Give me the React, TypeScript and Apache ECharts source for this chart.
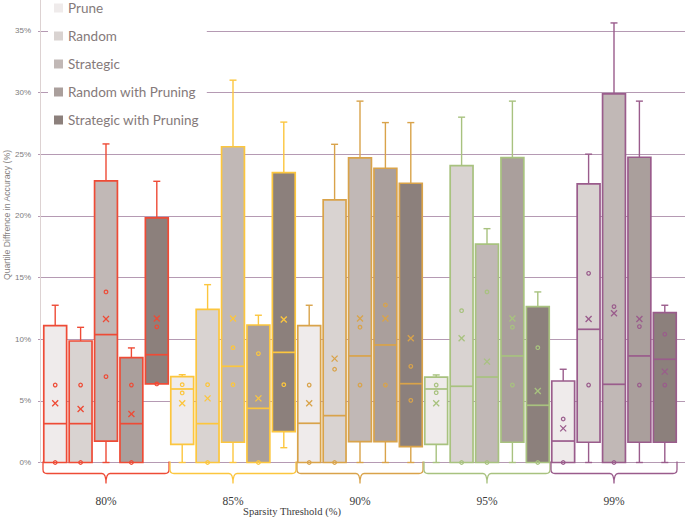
import React, { useEffect, useRef } from 'react';
import * as echarts from 'echarts';

const groups = ['80%', '85%', '90%', '95%', '99%'];
const seriesNames = ['Prune', 'Random', 'Strategic', 'Random with Pruning', 'Strategic with Pruning'];
const fills = ['#efebeb', '#d9d3d1', '#c1b8b6', '#aa9f9c', '#8c807c'];
const groupColors = ['#ee4b36', '#fcc63e', '#d9a34a', '#a8c27f', '#9a5c8c'];

// per group: [min, Q1, median, Q3, max, mean]
const prune = [
  [0, 0, 3.15, 11.1, 12.75, 4.8],
  [0, 1.47, 5.96, 6.96, 7.12, 4.8],
  [0, 0, 3.18, 11.1, 12.75, 4.8],
  [0, 1.47, 5.96, 6.93, 7.1, 4.8],
  [0, 0, 1.74, 6.61, 7.56, 2.77],
];
const random = [
  [0, 0, 3.15, 9.85, 10.96, 4.34],
  [0, 0, 3.15, 12.42, 14.42, 5.2],
  [0, 0, 3.8, 21.3, 25.8, 8.42],
  [0, 0, 6.18, 24.07, 28.0, 10.07],
  [0, 1.64, 10.8, 22.59, 25.0, 11.64],
];
const strategic = [
  [0, 1.74, 10.37, 22.83, 25.83, 11.64],
  [0, 1.64, 7.8, 25.6, 31.0, 11.67],
  [0, 1.69, 8.64, 24.7, 29.3, 11.67],
  [0, 0, 6.93, 17.7, 18.96, 8.18],
  [0, 0, 6.34, 29.89, 35.64, 12.1],
];
const randomPruning = [
  [0, 0, 3.15, 8.5, 9.29, 3.93],
  [0, 0, 4.39, 11.15, 11.94, 5.2],
  [0, 1.69, 9.53, 23.86, 27.56, 11.67],
  [0, 1.64, 8.64, 24.72, 29.3, 11.67],
  [0, 1.64, 8.64, 24.75, 29.3, 11.64],
];
const strategicPruning = [
  [6.37, 6.37, 8.74, 19.83, 22.8, 11.67],
  [1.2, 2.5, 8.93, 23.5, 27.6, 11.6],
  [0, 1.28, 6.39, 22.64, 27.56, 10.07],
  [0, 0, 4.64, 12.64, 13.83, 5.8],
  [0, 1.64, 8.37, 12.15, 12.75, 7.37],
];

// inner points per group
const prunePoints = [[6.28, 0], [6.31, 5.64], [6.28, 0], [6.28, 5.66], [3.53, 0]];
const randomPoints = [[6.28, 0], [6.31, 0], [7.56, 0], [12.31, 0], [15.34, 6.28]];
const strategicPoints = [[13.83, 6.96], [9.31, 6.31], [10.97, 6.28], [13.83, 0], [12.64, 0]];
const randomPruningPoints = [[6.28, 0], [8.83, 0], [12.77, 6.28], [10.97, 6.28], [11.02, 6.28]];
const strategicPruningPoints = [[11.0, 6.37], [6.31], [7.8, 5.04], [9.31, 0], [10.4, 6.28]];

const allBoxes = [prune, random, strategic, randomPruning, strategicPruning];
const allPoints = [prunePoints, randomPoints, strategicPoints, randomPruningPoints, strategicPruningPoints];

const yMax = 37.5;
const yInterval = 5;

function slotInfo(api: any, g: number, s: number, v: number) {
  const band = api.size([1, 0])[0];
  const slot = band / 5;
  const p = api.coord([g, v]);
  return { cx: p[0] + (s - 2) * slot, cy: p[1], w: slot * 0.9 };
}

function makeBoxRender(s: number) {
  return (params: any, api: any) => {
    const g = api.value(0);
    const mn = api.value(1), q1 = api.value(2), md = api.value(3), q3 = api.value(4), mx = api.value(5), mean = api.value(6);
    const { cx, w } = slotInfo(api, g, s, 0);
    const Y = (v: number) => api.coord([g, v])[1];
    const stroke = groupColors[g];
    const lw = 1.7;
    const line = (x1: number, y1: number, x2: number, y2: number, width = lw) => ({
      type: 'line', shape: { x1, y1, x2, y2 }, style: { stroke, lineWidth: width },
    });
    const children: any[] = [];
    if (mx > q3) {
      children.push(line(cx, Y(q3), cx, Y(mx), 1.4));
      children.push(line(cx - 3.5, Y(mx), cx + 3.5, Y(mx), 1.4));
    }
    if (mn < q1) {
      children.push(line(cx, Y(q1), cx, Y(mn), 1.4));
      children.push(line(cx - 3.5, Y(mn), cx + 3.5, Y(mn), 1.4));
    }
    children.push({
      type: 'rect',
      shape: { x: cx - w / 2, y: Y(q3), width: w, height: Y(q1) - Y(q3) },
      style: { fill: fills[s], stroke, lineWidth: lw },
    });
    children.push(line(cx - w / 2, Y(md), cx + w / 2, Y(md)));
    const ym = Y(mean);
    children.push(line(cx - 3, ym - 3, cx + 3, ym + 3, 1.3));
    children.push(line(cx - 3, ym + 3, cx + 3, ym - 3, 1.3));
    return { type: 'group', children };
  };
}

function renderPoint(params: any, api: any) {
  const g = api.value(0), s = api.value(1), v = api.value(2);
  const { cx, cy } = slotInfo(api, g, s, v);
  return {
    type: 'circle',
    shape: { cx, cy, r: 1.8 },
    style: { fill: 'none', stroke: groupColors[g], lineWidth: 1.2 },
  };
}

function renderBrace(params: any, api: any) {
  const g = api.value(0);
  const band = api.size([1, 0])[0];
  const p = api.coord([g, 0]);
  const c = p[0];
  const L = c - band / 2 + 0.5;
  const R = c + band / 2 - 0.5;
  const y0 = p[1] - 1;
  const yh = p[1] + 11;
  const yt = p[1] + 21;
  const d = `M${L},${y0} L${L},${yh - 4} Q${L},${yh} ${L + 4},${yh} L${c - 4},${yh} Q${c},${yh} ${c},${yt} Q${c},${yh} ${c + 4},${yh} L${R - 4},${yh} Q${R},${yh} ${R},${yh - 4} L${R},${y0}`;
  return {
    type: 'path',
    shape: { pathData: d },
    style: { fill: 'none', stroke: groupColors[g], lineWidth: 1.3 },
  };
}

export default function App() {
  const ref = useRef<HTMLDivElement>(null);
  useEffect(() => {
    if (!ref.current) return;
    const chart = echarts.init(ref.current, undefined, { renderer: 'svg' });

    const boxSeries = seriesNames.map((name, s) => ({
      name,
      type: 'custom',
      xAxisIndex: 1,
      yAxisIndex: 1,
      renderItem: makeBoxRender(s),
      encode: { x: 0, y: [1, 2, 3, 4, 5] },
      itemStyle: { color: fills[s] },
      data: allBoxes[s].map((b, g) => [g, ...b]),
      z: 3,
    }));

    const pointData: number[][] = [];
    allPoints.forEach((pts, s) => pts.forEach((arr, g) => arr.forEach((v) => pointData.push([g, s, v]))));

    const option: any = {
      animation: false,
      backgroundColor: '#ffffff',
      grid: [
        { left: 40, right: 0, top: 0, bottom: 54.5 },
        { left: 42.5, right: 7.5, top: 0, bottom: 54.5 },
      ],
      xAxis: [
        { gridIndex: 0, type: 'category', data: groups, show: false },
        {
          gridIndex: 1, type: 'category', data: groups,
          axisLine: { show: false }, axisTick: { show: false },
          axisLabel: { margin: 32, fontFamily: '"Liberation Serif", serif', fontSize: 11.5, color: '#3a3a3a' },
          splitLine: { show: false },
        },
      ],
      yAxis: [
        {
          gridIndex: 0, type: 'value', min: 0, max: yMax, interval: yInterval,
          axisLine: { show: true, lineStyle: { color: '#ddd2d2', width: 1 } },
          axisTick: { show: true, length: 2, lineStyle: { color: '#b59ab3' } },
          axisLabel: {
            showMaxLabel: false, margin: 9,
            fontFamily: '"Liberation Sans", sans-serif', fontSize: 8, color: '#7d7d7d',
            formatter: (v: number) => (v % yInterval === 0 ? `${v}%` : ''),
          },
          splitLine: { show: true, showMaxLine: false, lineStyle: { color: '#b59ab3', width: 1 } },
        },
        { gridIndex: 1, type: 'value', min: 0, max: yMax, interval: yInterval, show: false, splitLine: { show: false } },
      ],
      legend: {
        data: seriesNames,
        orient: 'vertical',
        left: 48,
        top: -3,
        backgroundColor: '#ffffff',
        padding: [4, 8, 4, 6],
        itemWidth: 9,
        itemHeight: 9,
        itemGap: 14,
        icon: 'rect',
        itemStyle: { borderWidth: 0 },
        textStyle: { fontFamily: 'Lato, sans-serif', fontSize: 13.5, color: '#857a7a', lineHeight: 14 },
      },
      graphic: [
        {
          type: 'text', x: 7, y: 215, rotation: Math.PI / 2,
          style: {
            text: 'Quartile Diffrence in Accuracy (%)', fill: '#857f7f',
            font: '8.7px "Liberation Sans", sans-serif', align: 'center', verticalAlign: 'middle',
            textAlign: 'center', textVerticalAlign: 'middle',
          },
        },
        {
          type: 'text', x: 292, y: 511,
          style: {
            text: 'Sparsity Threshold (%)', fill: '#3a3a3a',
            font: '10.5px "Liberation Serif", serif', align: 'center', verticalAlign: 'middle',
            textAlign: 'center', textVerticalAlign: 'middle',
          },
        },
      ],
      series: [
        ...boxSeries,
        {
          name: 'points', type: 'custom', xAxisIndex: 1, yAxisIndex: 1,
          renderItem: renderPoint, encode: { x: 0, y: 2 }, data: pointData, z: 4,
        },
        {
          name: 'braces', type: 'custom', xAxisIndex: 1, yAxisIndex: 1,
          renderItem: renderBrace, encode: { x: 0, y: 1 }, data: groups.map((_, g) => [g, 0]), z: 4,
        },
      ],
    };
    chart.setOption(option);
    return () => chart.dispose();
  }, []);
  return <div ref={ref} style={{ position: 'fixed', left: 0, top: 0, width: 685, height: 517 }} />;
}
